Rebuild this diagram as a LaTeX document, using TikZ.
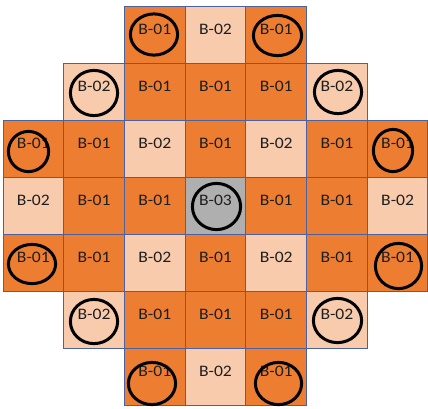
\documentclass[tikz,border=0pt]{standalone}
\usepackage{fontspec}
\newfontfamily\cellfont[FakeStretch=1.1]{Carlito}
\usepackage{tikz}
\usetikzlibrary{positioning}

\definecolor{orangeB}{HTML}{ED7D31}
\definecolor{peachB}{HTML}{F8CBAD}
\definecolor{greyB}{HTML}{AFAFAF}
\definecolor{gridline}{HTML}{4A62A0}
\definecolor{txt}{HTML}{1E1E1E}

\tikzset{
  cell/.style={draw=gridline, line width=1pt, minimum width=60.7pt, minimum height=57pt, inner sep=0pt},
  hi/.style={cell, fill=orangeB},
  lo/.style={cell, fill=peachB},
  mid/.style={cell, fill=greyB},
  tag/.style={font=\cellfont\fontsize{16}{19}\selectfont, text=txt, inner sep=0pt},
  ring/.style={draw=black, line width=3pt}
}

\begin{document}
\begin{tikzpicture}[x=1pt,y=-1pt]
  \useasboundingbox (0,0) rectangle (428,408);

  % cells: row/col/style/label
  \foreach \r/\c/\s/\t in {
      0/2/hi/B-01, 0/3/lo/B-02, 0/4/hi/B-01,
      1/1/lo/B-02, 1/2/hi/B-01, 1/3/hi/B-01, 1/4/hi/B-01, 1/5/lo/B-02,
      2/0/hi/B-01, 2/1/hi/B-01, 2/2/lo/B-02, 2/3/hi/B-01, 2/4/lo/B-02, 2/5/hi/B-01, 2/6/hi/B-01,
      3/0/lo/B-02, 3/1/hi/B-01, 3/2/hi/B-01, 3/3/mid/B-03, 3/4/hi/B-01, 3/5/hi/B-01, 3/6/lo/B-02,
      4/0/hi/B-01, 4/1/hi/B-01, 4/2/lo/B-02, 4/3/hi/B-01, 4/4/lo/B-02, 4/5/hi/B-01, 4/6/hi/B-01,
      5/1/lo/B-02, 5/2/hi/B-01, 5/3/hi/B-01, 5/4/hi/B-01, 5/5/lo/B-02,
      6/2/hi/B-01, 6/3/lo/B-02, 6/4/hi/B-01}
  {
    \node[\s] (c\r\c) at ({33.36+60.71*\c},{34.5+57*\r}) {};
    \node[tag] (t\r\c) at ([yshift=5.5pt]c\r\c.center) {\t};
  }

  % hand-drawn rings
  \foreach \x/\y/\a/\b in {
      154/34.5/23.6/20.6, 277.5/35.5/24.1/20.1,
      94/93/23.6/22.6, 338/92/23.6/21.6,
      28.5/151.5/20.1/20.1, 393/150.5/19.6/21.1,
      216.5/206.5/24.1/23.1,
      32/264/23.6/19.6, 398.5/266/23.1/22.6,
      94/321.5/23.6/22.1, 337.5/320.5/24.1/22.1,
      152/383.5/23.6/21.1, 278.5/383.5/23.1/21.1}
    \draw[ring] (\x,\y) ellipse [x radius=\a, y radius=\b];
\end{tikzpicture}
\end{document}
